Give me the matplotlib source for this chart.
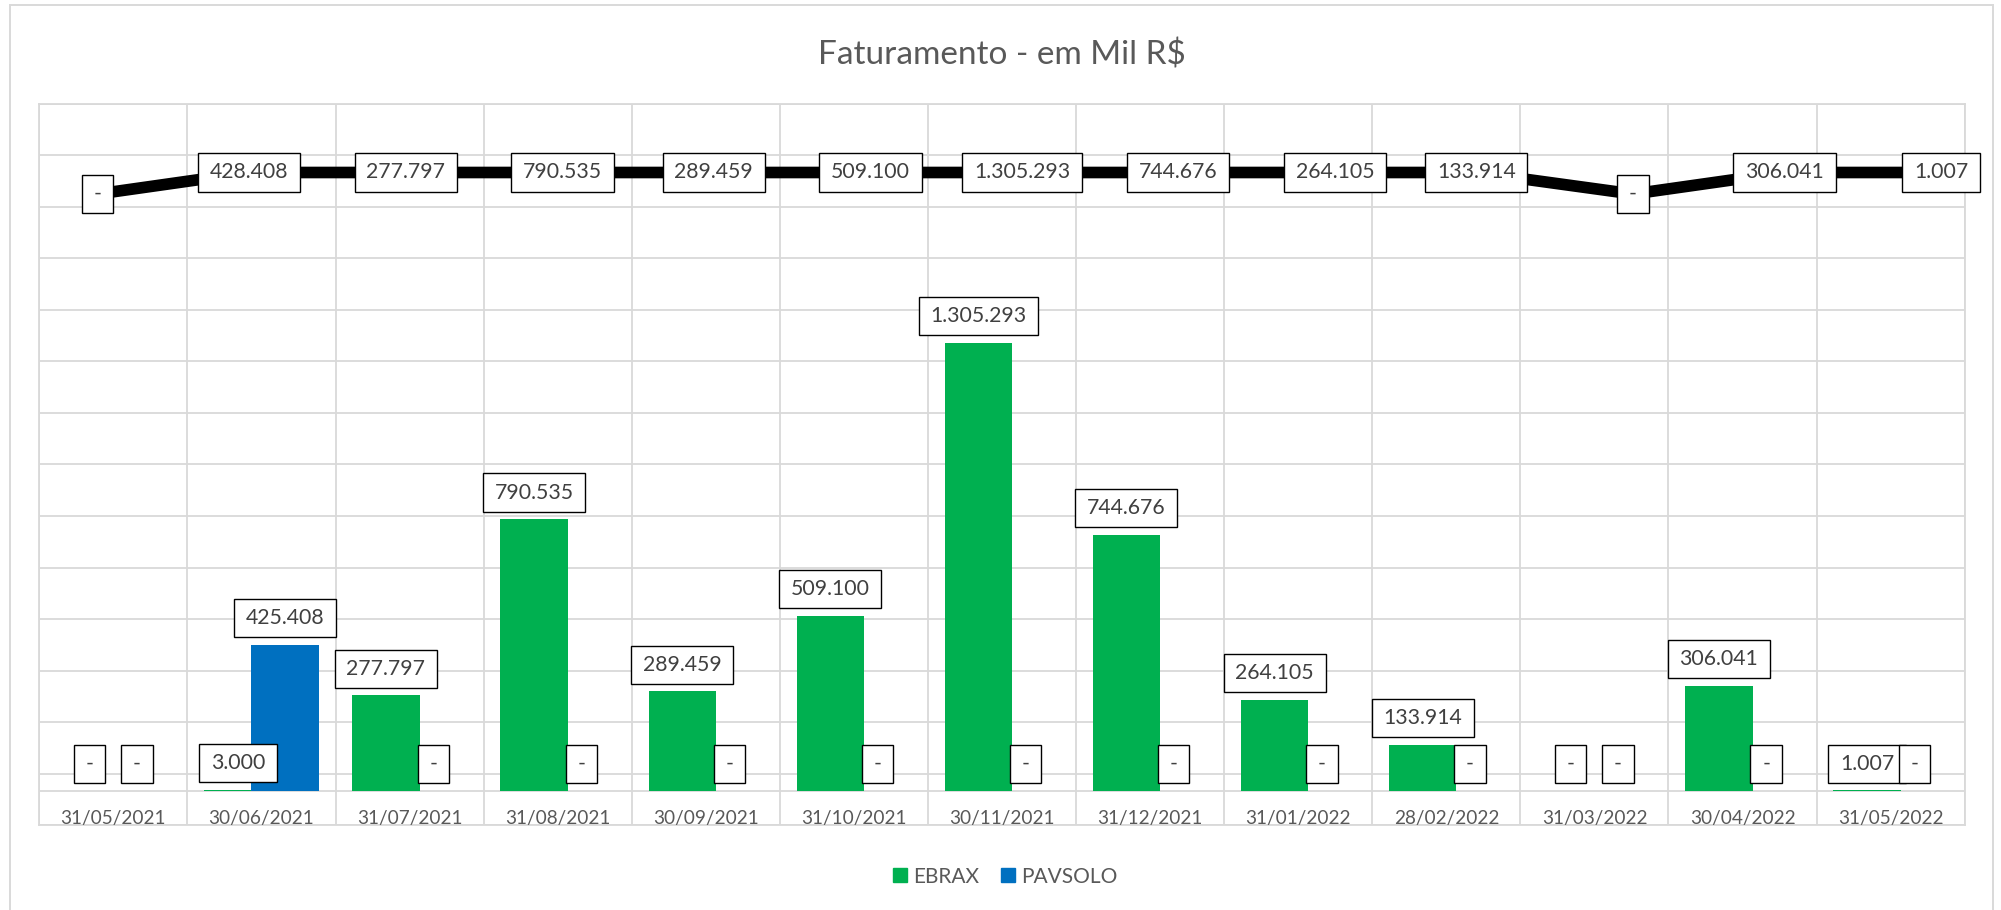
import matplotlib
matplotlib.use("Agg")
import matplotlib.pyplot as plt
import matplotlib.dates as mdates
from matplotlib.path import Path
from matplotlib.patches import Rectangle, Patch
import numpy as np
import pandas as pd

# data (valores em Mil R$)
datas = ["31/05/2021", "30/06/2021", "31/07/2021", "31/08/2021", "30/09/2021",
         "31/10/2021", "30/11/2021", "31/12/2021", "31/01/2022", "28/02/2022",
         "31/03/2022", "30/04/2022", "31/05/2022"]
ebrax = [0, 3000, 277797, 790535, 289459, 509100, 1305293, 744676,
         264105, 133914, 0, 306041, 1007]
pavsolo = [0, 425408, 0, 0, 0, 0, 0, 0, 0, 0, 0, 0, 0]

GREEN = "#00B050"
BLUE = "#0070C0"
GRID = "#D9D9D9"
TXT = "#595959"
LBL = 15.3

plt.rcParams["font.family"] = ["Lato", "DejaVu Sans"]

W, H = 2001, 910


def fmt(v):
    if v == 0:
        return "-"
    return f"{v:,.0f}".replace(",", ".")


def label_box(x0, y0, width, height, mutation_size):
    # excel style label box: wider padding on the sides than on top/bottom
    px = 0.55 * mutation_size
    py = 0.43 * mutation_size
    return Path([(x0 - px, y0 - py), (x0 + width + px, y0 - py),
                 (x0 + width + px, y0 + height + py), (x0 - px, y0 + height + py),
                 (x0 - px, y0 - py)], closed=True)


box_props = dict(boxstyle=label_box, fc="white", ec="black", lw=1.0)
pad_y = 0.43 * LBL * 100 / 72

fig = plt.figure(figsize=(W / 100, H / 100), dpi=100)
fig.add_artist(Rectangle((10 / W, -0.05), 1983 / W, 1.05 - 5 / H, fill=False,
                         ec=GRID, lw=1.4, transform=fig.transFigure))

rect = [39.3 / W, (H - 825) / H, 1925.4 / W, 721 / H]
ax = fig.add_axes(rect)

x = np.arange(len(datas))
bw = 0.4545
off = 0.1595
ax.bar(x - off, ebrax, bw, color=GREEN, zorder=2)
ax.bar(x + off, pavsolo, bw, color=BLUE, zorder=3)

ax.set_xlim(-0.5, len(datas) - 0.5)
ax.set_ylim(-100000, 2000000)
ax.set_yticks(np.arange(-100000, 2000001, 150000))
ax.set_xticks(np.arange(-0.5, len(datas)))
ax.tick_params(length=0, labelbottom=False, labelleft=False)
ax.grid(True, color=GRID, lw=1.3)
ax.set_axisbelow(True)
for s in ax.spines.values():
    s.set_color(GRID)
    s.set_linewidth(1.3)
ax.axhline(0, color=GRID, lw=1.3, zorder=1)

for i, d in enumerate(datas):
    ax.annotate(d, xy=(i, 0), xycoords=("data", "axes fraction"), xytext=(0, 1),
                textcoords="offset pixels", ha="center", va="baseline",
                fontsize=13.7, color=TXT)

for serie, o in ((ebrax, -off), (pavsolo, off)):
    for i, v in enumerate(serie):
        ax.annotate(fmt(v), xy=(i + o, v), xytext=(0, 7.5 + pad_y),
                    textcoords="offset pixels", ha="center", va="bottom",
                    fontsize=LBL, color="#404040", bbox=box_props, zorder=5)

# total line: secondary date axis, every month with revenue sits on the same level
total = np.array(ebrax) + np.array(pavsolo)
dias = mdates.date2num(pd.to_datetime(datas, format="%d/%m/%Y").to_pydatetime())
nivel = (total > 0).astype(float)

lx = fig.add_axes(rect, label="linha")
lx.patch.set_alpha(0)
lx.axis("off")
lx.plot(dias, nivel, color="black", lw=8.4, solid_joinstyle="round",
        solid_capstyle="round", zorder=2)
lx.set_xlim(dias[0] - 11.56, dias[-1] + 4.69)
lx.set_ylim(-29.35, 4.186)
for d, n, t in zip(dias, nivel, total):
    lx.annotate(fmt(t), xy=(d, n), ha="center", va="center", fontsize=LBL,
                color="#404040", bbox=box_props, zorder=5)

fig.text(1002 / W, 1 - 65 / H, "Faturamento - em Mil R$", ha="center",
         va="baseline", fontsize=24, color=TXT)

fig.legend(handles=[Patch(color=GREEN), Patch(color=BLUE)],
           labels=["EBRAX", "PAVSOLO"], loc="center",
           bbox_to_anchor=(1005 / W, 1 - 876.7 / H), ncol=2, frameon=False,
           fontsize=15, handlelength=0.66, handleheight=0.66,
           handletextpad=0.3, columnspacing=1.06, labelcolor=TXT)

fig.savefig("out.png", dpi=100, facecolor="white")
